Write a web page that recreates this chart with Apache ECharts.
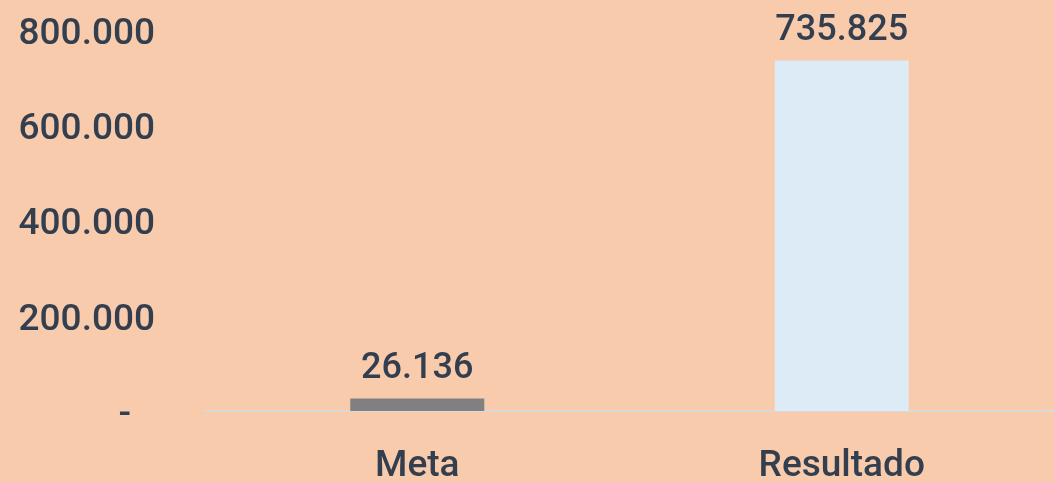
<!DOCTYPE html>
<html>
<head>
<meta charset="utf-8">
<script src="https://cdn.jsdelivr.net/npm/echarts@6/dist/echarts.min.js"></script>
<style>
  html, body { margin: 0; padding: 0; background: #F8CBAD; }
  #chart { width: 1054px; height: 482px; }
</style>
</head>
<body>
<div id="chart"></div>
<script>
  var categories = ["Meta", "Resultado"];
  var values = [26136, 735825];
  var barColors = ["#808080", "#DDEBF7"];

  // 800000 -> "800.000"
  function fmt(v) {
    return String(Math.round(v)).replace(/\B(?=(\d{3})+(?!\d))/g, ".");
  }

  var textColor = "#333F4F";
  var font = "Roboto";

  var myChart = echarts.init(document.getElementById("chart"));
  var option = {
    backgroundColor: "#F8CBAD",
    animation: false,
    grid: { left: 205, right: 0, top: 30, bottom: 71, outerBoundsMode: "none" },
    xAxis: {
      type: "category",
      data: categories,
      axisLine: { lineStyle: { color: "#D9D9D9", width: 2 } },
      axisTick: { show: false },
      axisLabel: {
        color: textColor,
        fontFamily: font,
        fontWeight: 500,
        fontSize: 37,
        margin: 37
      }
    },
    yAxis: {
      type: "value",
      min: 0,
      max: 800000,
      interval: 200000,
      splitLine: { show: false },
      axisLine: { show: false },
      axisTick: { show: false },
      axisLabel: {
        color: textColor,
        fontFamily: font,
        fontWeight: 500,
        fontSize: 37,
        margin: 50,
        padding: [9, 0, 0, 0],
        formatter: function (v) {
          return v === 0 ? "{z|-}" : fmt(v);
        },
        rich: {
          z: {
            color: textColor,
            fontFamily: font,
            fontWeight: 500,
            fontSize: 37,
            padding: [0, 24, 0, 0]
          }
        }
      }
    },
    series: [
      {
        type: "bar",
        barWidth: 134,
        data: values.map(function (v, i) {
          return { value: v, itemStyle: { color: barColors[i] } };
        }),
        label: {
          show: true,
          position: "top",
          distance: 12,
          color: textColor,
          fontFamily: font,
          fontWeight: 500,
          fontSize: 36,
          formatter: function (p) {
            return fmt(p.value);
          }
        }
      }
    ]
  };
  myChart.setOption(option);
  window.addEventListener("resize", function () {
    myChart.resize();
  });
</script>
</body>
</html>
